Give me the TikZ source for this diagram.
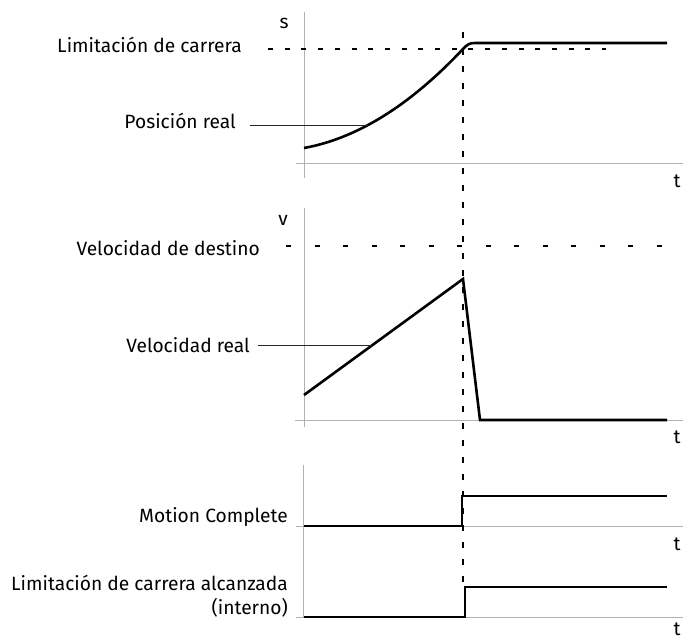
\documentclass[tikz,border=0pt]{standalone}
\usepackage{fontspec}
\setmainfont{Fira Sans}
\usetikzlibrary{calc}
\begin{document}
\begin{tikzpicture}[x=1pt,y=-1pt,
  lbl/.style={font=\fontsize{19.2}{22}\selectfont, inner sep=0pt, anchor=base east},
  axlbl/.style={font=\fontsize{19.2}{22}\selectfont, inner sep=0pt, anchor=base},
  axis/.style={draw=black!30, line width=1pt},
  sig/.style={line width=2.6pt},
  leader/.style={line width=0.9pt, draw=black!85},
  vdash/.style={line width=1.2pt, dash pattern=on 6pt off 11pt},
  hdashA/.style={line width=1.2pt, dash pattern=on 5pt off 11.7pt},
  hdashB/.style={line width=1.2pt, dash pattern=on 5pt off 23.5pt},
]
\useasboundingbox (0,0) rectangle (683,640);

% ---------- panel 1 : position ----------
\coordinate (a1top) at (304,12);
\coordinate (a1bot) at (304,178);
\coordinate (a1l) at (296,163);
\coordinate (a1r) at (683,163);
\draw[axis] (a1top) -- (a1bot);
\draw[axis] (a1l) -- (a1r);
\node[axlbl] (s) at (284,28) {s};
\node[axlbl] (t1) at (677,187) {t};
\node[lbl] (limc) at (242,52) {Limitación de carrera};
\node[lbl] (posreal) at (236,128) {Posición real};
\coordinate (lim1) at (268,49);
\coordinate (lim2) at (606,49);
\draw[hdashA] (lim1) -- (lim2);
\coordinate (p0) at (304,148);
\coordinate (p1) at (463,49);
\coordinate (p2) at (475,43);
\coordinate (p3) at (667,43);
\coordinate (pr) at (368,125);
\draw[sig] (p0) .. controls (357,138.4) and (410,105.4) .. (p1)
  .. controls (467.5,44.2) and (469.5,43) .. (p2) -- (p3);
\draw[leader] ($(posreal.base east)+(14,-3)$) -- (pr);

% ---------- panel 2 : velocity ----------
\coordinate (a2top) at (304,208);
\coordinate (a2bot) at (304,427);
\coordinate (a2l) at (295,420);
\coordinate (a2r) at (683,420);
\draw[axis] (a2top) -- (a2bot);
\draw[axis] (a2l) -- (a2r);
\node[axlbl] (v) at (283,225) {v};
\node[axlbl] (t2) at (677,443) {t};
\node[lbl] (vdest) at (260,255) {Velocidad de destino};
\node[lbl] (vreal) at (250,352) {Velocidad real};
\coordinate (vd1) at (286,246);
\coordinate (vd2) at (667,246);
\draw[hdashB] (vd1) -- (vd2);
\coordinate (v0) at (304,395);
\coordinate (v1) at (463,279);
\coordinate (v2) at (480,420);
\coordinate (v3) at (667,420);
\coordinate (vr) at (372,345);
\draw[sig] (v0) -- (v1) -- (v2) -- (v3);
\draw[leader] ($(vreal.base east)+(8,-7)$) -- (vr);

% ---------- panels 3 and 4 : signals ----------
\coordinate (a3top) at (303,465);
\coordinate (a3bot) at (303,618);
\coordinate (a3l) at (296,526);
\coordinate (a3r) at (683,526);
\coordinate (a4l) at (296,617);
\coordinate (a4r) at (683,617);
\draw[axis] (a3top) -- (a3bot);
\draw[axis] (a3l) -- (a3r);
\draw[axis] (a4l) -- (a4r);
\node[axlbl] (t3) at (677,550) {t};
\node[axlbl] (t4) at (677,635) {t};
\node[lbl] (mc) at (288,522) {Motion Complete};
\node[lbl] (lca) at (288,590) {Limitación de carrera alcanzada};
\node[lbl] (int) at (288,614) {(interno)};
\coordinate (m0) at (304,526);
\coordinate (m1) at (462,526);
\coordinate (m2) at (462,496);
\coordinate (m3) at (667,496);
\draw[sig] (m0) -- (m1) -- (m2) -- (m3);
\coordinate (l0) at (304,617);
\coordinate (l1) at (465,617);
\coordinate (l2) at (465,587);
\coordinate (l3) at (667,587);
\draw[sig] (l0) -- (l1) -- (l2) -- (l3);

% ---------- common vertical marker ----------
\coordinate (vm1) at (463,32);
\coordinate (vm2) at (463,587);
\draw[vdash] (vm1) -- (vm2);
\end{tikzpicture}
\end{document}
